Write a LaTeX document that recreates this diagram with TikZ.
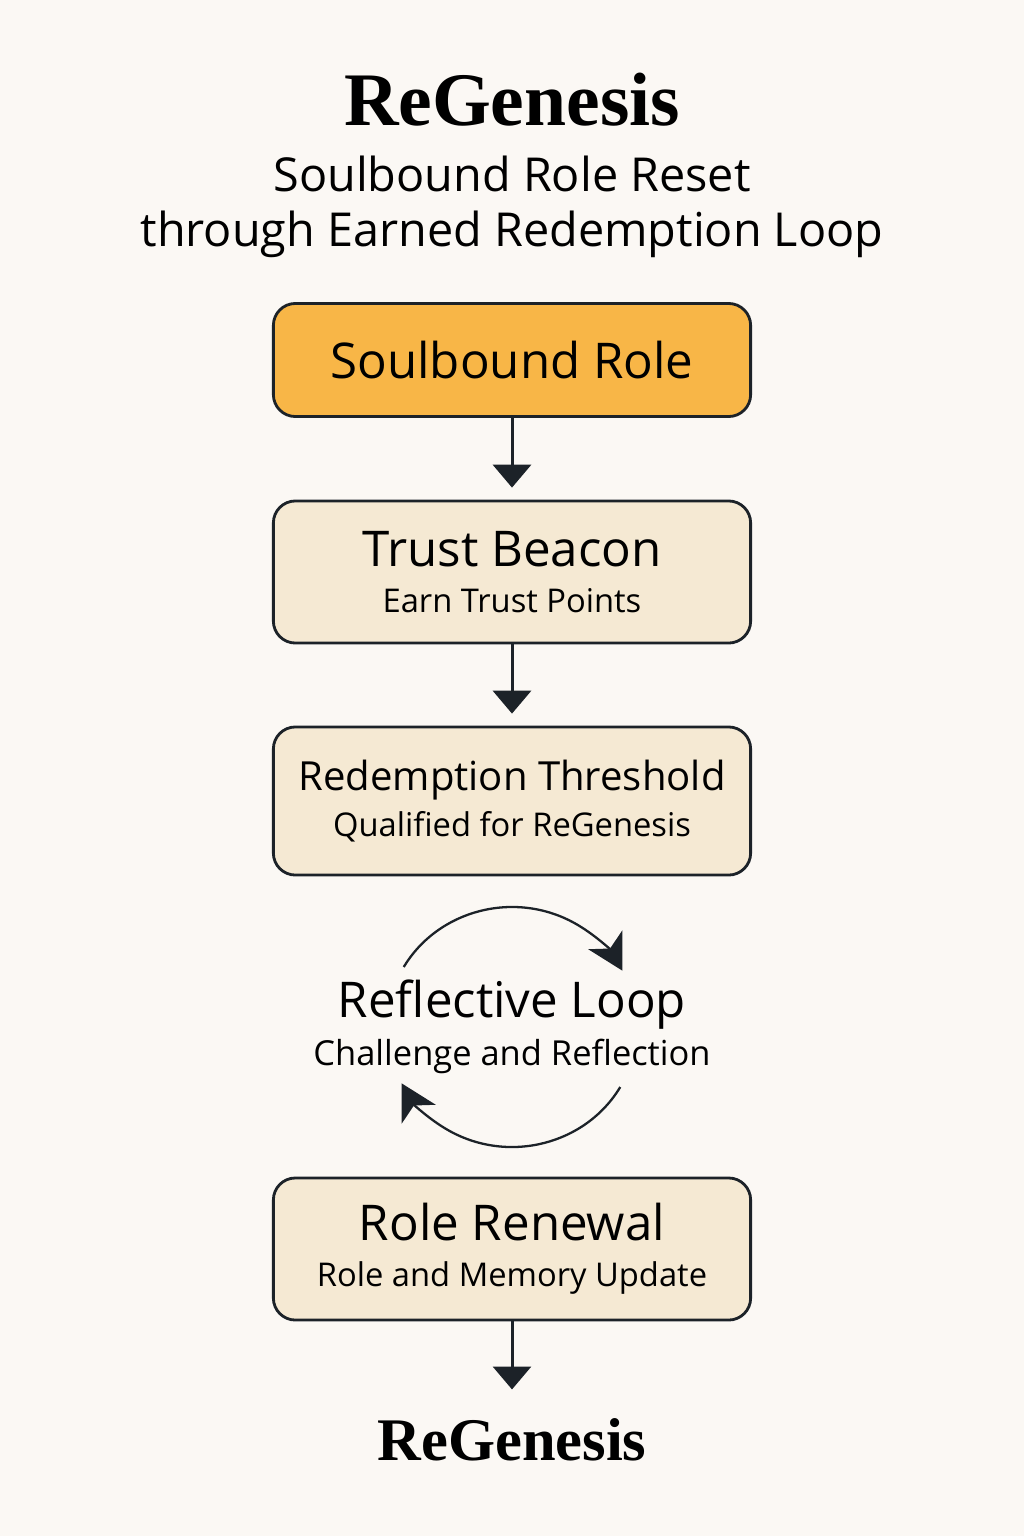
\documentclass[tikz,border=0pt]{standalone}
\usepackage{fontspec}
\setmainfont{Open Sans}
\newfontfamily\titlefont{Liberation Serif}
\usetikzlibrary{arrows.meta}
\definecolor{paper}{HTML}{FBF8F4}
\definecolor{amber}{HTML}{F8B647}
\definecolor{sand}{HTML}{F5E9D3}
\definecolor{ink}{HTML}{1C2228}

\tikzset{
  box/.style={draw=ink,line width=0.8pt,rounded corners=0.22cm,fill=sand,
    minimum width=4.77cm,align=center,inner sep=0pt,
    font=\fontsize{9.3}{13}\selectfont},
  flow/.style={ink,line width=0.85pt,-{Triangle[width=10.8pt,length=6.5pt]}},
  turn/.style={ink,line width=0.65pt,-{Stealth[length=10pt,width=11pt,inset=2.8pt]}}
}
\newcommand{\head}[2][14]{{\fontsize{#1}{13}\selectfont #2}}

\begin{document}
\begin{tikzpicture}[x=0.01cm,y=0.01cm]
  \fill[paper] (0,0) rectangle (1024,-1536);

  \node (title) at (512,-100) {\titlefont\bfseries\fontsize{21.5}{24}\selectfont ReGenesis};
  \node[align=center,font=\fontsize{13.3}{15.6}\selectfont] (subtitle) at (512,-207)
    {Soulbound Role Reset\\through Earned Redemption Loop};

  \node[box,fill=amber,minimum height=1.13cm] (role) at (512,-360) {\head{Soulbound Role}};
  \node[box,minimum height=1.42cm] (beacon) at (512,-572) {\head{Trust Beacon}\\Earn Trust Points};
  \node[box,minimum height=1.48cm] (threshold) at (512,-801) {\head[11.4]{Redemption Threshold}\\Qualified for ReGenesis};
  \node[align=center,font=\fontsize{9.8}{13.8}\selectfont] (loop) at (512,-1027)
    {\head{Reflective Loop}\\Challenge and Reflection};
  \node[box,minimum height=1.42cm] (renewal) at (512,-1249) {\head{Role Renewal}\\Role and Memory Update};
  \node (final) at (512,-1440) {\titlefont\bfseries\fontsize{17.2}{20}\selectfont ReGenesis};

  \draw[flow,shorten >=3.4pt] (role) -- (beacon);
  \draw[flow,shorten >=3.4pt] (beacon) -- (threshold);
  \draw[flow,shorten >=4.8pt] (renewal) -- (final);

  % loop around the middle step
  \draw[turn] (loop.center) ++(150:125 and 120)
    arc[start angle=150,end angle=28,x radius=125,y radius=120];
  \draw[turn] (loop.center) ++(-30:125 and 120)
    arc[start angle=-30,end angle=-152,x radius=125,y radius=120];
\end{tikzpicture}
\end{document}
